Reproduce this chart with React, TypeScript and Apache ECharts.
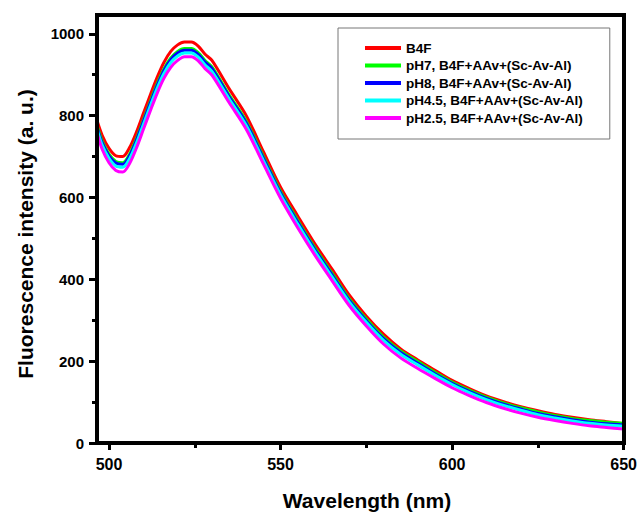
import React, { useEffect, useRef } from "react";
import * as echarts from "echarts";

const wavelengths = [496.5, 498, 500, 502, 504, 506, 508, 510, 512, 514, 516, 518, 520, 522, 524, 526, 528, 530, 535, 540, 545, 550, 555, 560, 565, 570, 575, 580, 585, 590, 595, 600, 605, 610, 615, 620, 625, 630, 635, 640, 645, 650];

const b4f = [788, 752, 720, 702, 700, 722, 760, 805, 850, 893, 930, 957, 973, 980, 980, 970, 950, 935, 866, 800, 712, 625, 555, 487, 425, 362, 310, 266, 230, 203, 178, 153, 133, 115, 101, 89, 79, 70, 63, 57, 52, 47];
const ph7 = [776, 738, 706, 688, 685, 706, 744, 789, 834, 877, 914, 941, 957, 964, 964, 954, 935, 919, 851, 786, 700, 615, 544, 477, 415, 353, 303, 259, 225, 199, 173, 149, 129, 112, 98, 86, 76, 67, 60, 55, 51, 48];
const ph8 = [772, 734, 702, 684, 681, 702, 740, 785, 830, 873, 910, 937, 953, 960, 960, 950, 931, 915, 847, 782, 696, 611, 540, 473, 411, 349, 299, 255, 221, 195, 169, 146, 126, 109, 95, 83, 72, 64, 57, 51, 47, 44];
const ph45 = [767, 728, 696, 677, 674, 695, 733, 778, 823, 866, 903, 930, 946, 953, 953, 943, 924, 908, 841, 776, 690, 606, 535, 468, 406, 345, 295, 251, 217, 191, 166, 143, 123, 106, 92, 80, 69, 61, 54, 48, 44, 41];
const ph25 = [758, 718, 685, 666, 662, 683, 721, 766, 811, 854, 891, 918, 935, 944, 944, 934, 915, 899, 832, 767, 682, 598, 526, 459, 397, 336, 286, 242, 208, 182, 158, 135, 116, 99, 85, 73, 63, 55, 48, 42, 38, 34];

const seriesNames = [
  "B4F",
  "pH7, B4F+AAv+(Sc-Av-Al)",
  "pH8, B4F+AAv+(Sc-Av-Al)",
  "pH4.5, B4F+AAv+(Sc-Av-Al)",
  "pH2.5, B4F+AAv+(Sc-Av-Al)",
];
const seriesValues = [b4f, ph7, ph8, ph45, ph25];
const seriesColors = ["#ff0000", "#00ff00", "#0000ff", "#00ffff", "#ff00ff"];

const xMajorTicks = [500, 550, 600, 650];
const xMinorTicks = [525, 575, 625];
const yMajorTicks = [0, 200, 400, 600, 800, 1000];
const yMinorTicks = [100, 300, 500, 700, 900];

const FONT = "'Liberation Sans', Arial, sans-serif";

const W = 640;
const H = 512;
const G_LEFT = 97;
const G_RIGHT = 16;
const G_TOP = 15;
const G_BOTTOM = 69;

export default function App() {
  const ref = useRef<HTMLDivElement>(null);
  useEffect(() => {
    if (!ref.current) return;
    const chart = echarts.init(ref.current, null, { renderer: "svg" });
    const xMin = 496.5;
    const xMax = 650;
    const yMin = 0;
    const yMax = 1046;
    const fmt = (v: number) => String(v);
    chart.setOption({
      animation: false,
      backgroundColor: "#ffffff",
      grid: {
        left: G_LEFT,
        right: G_RIGHT,
        top: G_TOP,
        bottom: G_BOTTOM,
        show: false,
      },
      legend: {
        orient: "vertical",
        left: 338,
        top: 28,
        padding: [13, 27, 14, 27],
        itemGap: 3.5,
        itemWidth: 36,
        itemHeight: 4,
        icon: "rect",
        borderColor: "#777",
        borderWidth: 1,
        textStyle: {
          fontFamily: FONT,
          fontWeight: "bold",
          fontSize: 13.5,
          lineHeight: 14,
          color: "#000",
        },
        data: seriesNames,
      },
      xAxis: [
        {
          type: "value",
          min: xMin,
          max: xMax,
          axisLine: { show: true, onZero: false, lineStyle: { color: "#000", width: 4 } },
          axisTick: { show: true, customValues: xMajorTicks, length: 7, lineStyle: { color: "#000", width: 3 } },
          axisLabel: {
            customValues: xMajorTicks,
            formatter: fmt,
            margin: 13,
            fontFamily: FONT,
            fontWeight: "bold",
            fontSize: 16,
            color: "#000",
          },
          splitLine: { show: false },
        },
        {
          type: "value",
          position: "bottom",
          min: xMin,
          max: xMax,
          axisLine: { show: false },
          axisTick: { show: true, customValues: xMinorTicks, length: 5, lineStyle: { color: "#000", width: 3 } },
          axisLabel: { show: false },
          splitLine: { show: false },
        },
      ],
      yAxis: [
        {
          type: "value",
          min: yMin,
          max: yMax,
          axisLine: { show: true, onZero: false, lineStyle: { color: "#000", width: 4 } },
          axisTick: { show: true, customValues: yMajorTicks, length: 8, lineStyle: { color: "#000", width: 3 } },
          axisLabel: {
            customValues: yMajorTicks,
            formatter: fmt,
            margin: 13,
            fontFamily: FONT,
            fontWeight: "bold",
            fontSize: 15,
            color: "#000",
          },
          splitLine: { show: false },
        },
        {
          type: "value",
          position: "left",
          min: yMin,
          max: yMax,
          axisLine: { show: false },
          axisTick: { show: true, customValues: yMinorTicks, length: 5, lineStyle: { color: "#000", width: 3 } },
          axisLabel: { show: false },
          splitLine: { show: false },
        },
      ],
      graphic: [
        {
          type: "rect",
          z: 100,
          silent: true,
          shape: { x: G_LEFT, y: G_TOP, width: W - G_LEFT - G_RIGHT, height: H - G_TOP - G_BOTTOM },
          style: { fill: "none", stroke: "#000", lineWidth: 4 },
        },
        {
          type: "text",
          x: 367,
          y: 500,
          style: {
            text: "Wavelength (nm)",
            fontFamily: FONT,
            fontWeight: "bold",
            fontSize: 21,
            fill: "#000",
            textAlign: "center",
            textVerticalAlign: "middle",
          },
        },
        {
          type: "text",
          x: 25,
          y: 234,
          rotation: Math.PI / 2,
          style: {
            text: "Fluorescence intensity (a. u.)",
            fontFamily: FONT,
            fontWeight: "bold",
            fontSize: 21,
            fill: "#000",
            textAlign: "center",
            textVerticalAlign: "middle",
          },
        },
      ],
      series: seriesNames.map((name, i) => ({
        name,
        type: "line",
        xAxisIndex: 0,
        yAxisIndex: 0,
        data: wavelengths.map((w, j) => [w, seriesValues[i][j]]),
        smooth: 0.3,
        showSymbol: false,
        symbol: "none",
        color: seriesColors[i],
        lineStyle: { color: seriesColors[i], width: 3 },
        z: 2 + i,
      })),
    });
    return () => chart.dispose();
  }, []);
  return <div ref={ref} style={{ position: "fixed", left: 0, top: 0, width: W, height: H }} />;
}
